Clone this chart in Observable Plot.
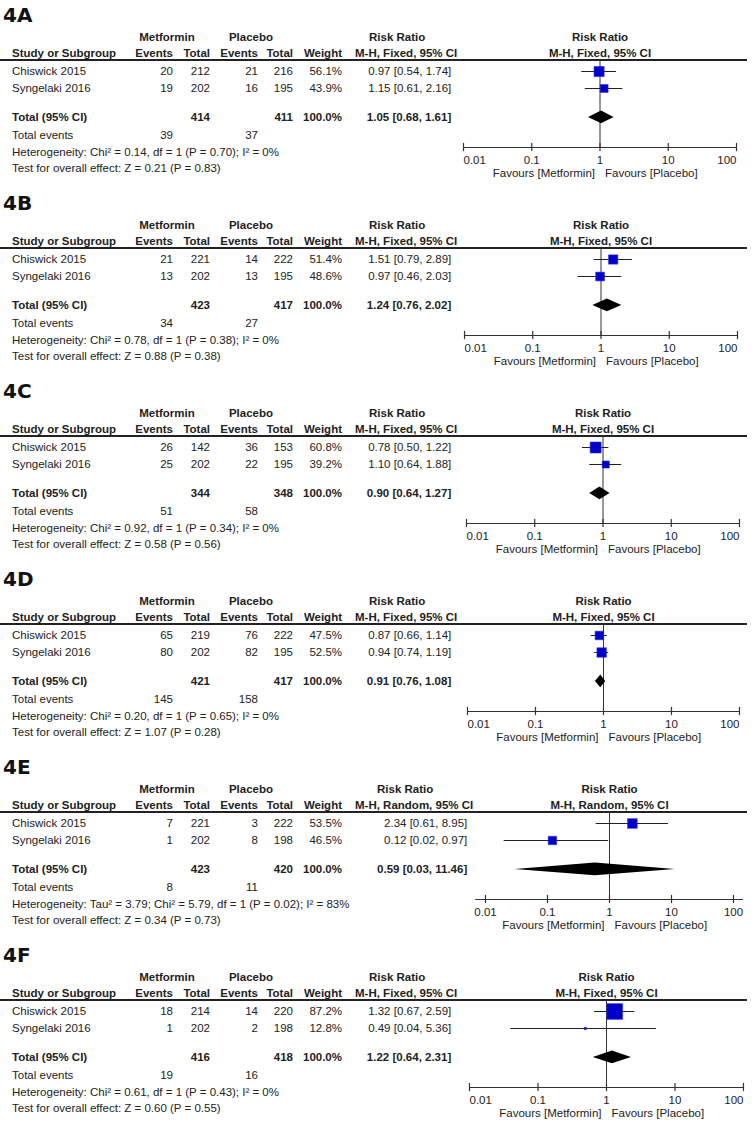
<!DOCTYPE html>
<html><head><meta charset="utf-8">
<script src="https://cdn.jsdelivr.net/npm/d3@7"></script>
<script src="https://cdn.jsdelivr.net/npm/@observablehq/plot@0.6"></script>
<style>
body{margin:0;background:#fff;}
#root{width:756px;}
.panel{position:relative;width:756px;height:188px;font-family:"Liberation Sans",Arial,sans-serif;font-size:11.5px;color:#222;}
.t{position:absolute;white-space:nowrap;line-height:14px;height:14px;}
.b{font-weight:bold;}
.lab{position:absolute;left:3px;font-family:"DejaVu Sans",sans-serif;font-weight:bold;font-size:20px;line-height:24px;color:#111;}
.hline{position:absolute;left:0;width:747px;height:1.5px;background:#222;}
.rrbox{position:absolute;white-space:nowrap;line-height:14px;height:14px;font-weight:bold;}
.rrbox .v{position:absolute;right:6px;white-space:nowrap;font-weight:normal;}
.rrbox .v.b{font-weight:bold;}
.rrbox .hd{position:absolute;left:50%;transform:translateX(calc(-50% - 9px));white-space:nowrap;}
.panel svg{position:absolute;left:0;top:0;}
</style>
</head><body><div id="root"></div>
<script>
// ---------- data ----------
const panels = ["4A","4B","4C","4D","4E","4F"];
const studies = ["Chiswick 2015","Syngelaki 2016"];
const methods = ["Fixed","Fixed","Fixed","Fixed","Random","Fixed"];
const metEvents = [[20,19],[21,13],[26,25],[65,80],[7,1],[18,1]];
const metTotal  = [[212,202],[221,202],[142,202],[219,202],[221,202],[214,202]];
const plaEvents = [[21,16],[14,13],[36,22],[76,82],[3,8],[14,2]];
const plaTotal  = [[216,195],[222,195],[153,195],[222,195],[222,198],[220,198]];
const weights   = [[56.1,43.9],[51.4,48.6],[60.8,39.2],[47.5,52.5],[53.5,46.5],[87.2,12.8]];
const rr  = [[0.97,1.15],[1.51,0.97],[0.78,1.10],[0.87,0.94],[2.34,0.12],[1.32,0.49]];
const rrLo = [[0.54,0.61],[0.79,0.46],[0.50,0.64],[0.66,0.74],[0.61,0.02],[0.67,0.04]];
const rrHi = [[1.74,2.16],[2.89,2.03],[1.22,1.88],[1.14,1.19],[8.95,0.97],[2.59,5.36]];
const totMet = [414,423,344,421,423,416];
const totPla = [411,417,348,417,420,418];
const totRR  = [1.05,1.24,0.90,0.91,0.59,1.22];
const totLo  = [0.68,0.76,0.64,0.76,0.03,0.64];
const totHi  = [1.61,2.02,1.27,1.08,11.46,2.31];
const evMet = [39,34,51,145,8,19];
const evPla = [37,27,58,158,11,16];
const heterogeneity = [
  "Heterogeneity: Chi² = 0.14, df = 1 (P = 0.70); I² = 0%",
  "Heterogeneity: Chi² = 0.78, df = 1 (P = 0.38); I² = 0%",
  "Heterogeneity: Chi² = 0.92, df = 1 (P = 0.34); I² = 0%",
  "Heterogeneity: Chi² = 0.20, df = 1 (P = 0.65); I² = 0%",
  "Heterogeneity: Tau² = 3.79; Chi² = 5.79, df = 1 (P = 0.02); I² = 83%",
  "Heterogeneity: Chi² = 0.61, df = 1 (P = 0.43); I² = 0%"
];
const overall = [
  "Test for overall effect: Z = 0.21 (P = 0.83)",
  "Test for overall effect: Z = 0.88 (P = 0.38)",
  "Test for overall effect: Z = 0.58 (P = 0.56)",
  "Test for overall effect: Z = 1.07 (P = 0.28)",
  "Test for overall effect: Z = 0.34 (P = 0.73)",
  "Test for overall effect: Z = 0.60 (P = 0.55)"
];
const tickValues = [0.01,0.1,1,10,100];
const tickLabels = ["0.01","0.1","1","10","100"];
const favours = ["Favours [Metformin]","Favours [Placebo]"];

// ---------- layout ----------
const W=756, H=188, ROW=17, ORIGIN=71;
const R = {lab:-3.3, h1:-2.0, h2:-1.06, line:-0.65, s:[0,1], tot:2.7, ev:3.75, het:4.75, test:5.7, axis:4.47, tick:5.24, fav:6.0};
const COL = {study:12, ev1:173, tot1:210, ev2:258, tot2:293, weight:342, rr:355, met:167, pla:251};
const xRanges = [[463,736],[464,737],[466,739],[467,739],[485,733],[469,743]];
const axisPad = [0,0,0,0,0.16,0];
const yPx = r => ORIGIN + r*ROW;
const f2 = v => v.toFixed(2);
const ci = (e,l,h) => `${f2(e)} [${f2(l)}, ${f2(h)}]`;

function put(panel, text, row, o) {
  const el = document.createElement("div");
  el.className = "t" + (o.bold ? " b" : "");
  el.textContent = text;
  el.style.top = (yPx(row) - 7) + "px";
  if (o.left != null) el.style.left = o.left + "px";
  if (o.right != null) el.style.right = (W - o.right) + "px";
  if (o.center != null) { el.style.left = o.center + "px"; el.style.transform = "translateX(-50%)"; }
  panel.appendChild(el);
}

const root = document.getElementById("root");
panels.forEach((name, i) => {
  const p = document.createElement("div");
  p.className = "panel";
  root.appendChild(p);

  const lab = document.createElement("div");
  lab.className = "lab"; lab.textContent = name;
  lab.style.top = (yPx(R.lab) - 12) + "px";
  p.appendChild(lab);

  put(p, "Metformin", R.h1, {center: COL.met, bold: true});
  put(p, "Placebo", R.h1, {center: COL.pla, bold: true});
  put(p, "Study or Subgroup", R.h2, {left: COL.study, bold: true});
  put(p, "Events", R.h2, {right: COL.ev1, bold: true});
  put(p, "Total", R.h2, {right: COL.tot1, bold: true});
  put(p, "Events", R.h2, {right: COL.ev2, bold: true});
  put(p, "Total", R.h2, {right: COL.tot2, bold: true});
  put(p, "Weight", R.h2, {right: COL.weight, bold: true});

  const hl = document.createElement("div");
  hl.className = "hline"; hl.style.top = (yPx(R.line) - 0.75) + "px";
  p.appendChild(hl);

  // risk ratio text column
  const box = document.createElement("div");
  box.className = "rrbox";
  box.style.left = COL.rr + "px";
  box.style.top = (yPx(R.h2) - 7) + "px";
  box.appendChild(document.createTextNode(`M-H, ${methods[i]}, 95% CI`));
  const hd = document.createElement("div");
  hd.className = "hd"; hd.textContent = "Risk Ratio";
  hd.style.top = (yPx(R.h1) - yPx(R.h2)) + "px";
  box.appendChild(hd);
  const addV = (txt, row, bold) => {
    const v = document.createElement("div");
    v.className = "v" + (bold ? " b" : "");
    v.textContent = txt;
    v.style.top = (yPx(row) - yPx(R.h2)) + "px";
    box.appendChild(v);
  };
  studies.forEach((s, j) => {
    const row = R.s[j];
    put(p, s, row, {left: COL.study});
    put(p, String(metEvents[i][j]), row, {right: COL.ev1});
    put(p, String(metTotal[i][j]), row, {right: COL.tot1});
    put(p, String(plaEvents[i][j]), row, {right: COL.ev2});
    put(p, String(plaTotal[i][j]), row, {right: COL.tot2});
    put(p, weights[i][j].toFixed(1) + "%", row, {right: COL.weight});
    addV(ci(rr[i][j], rrLo[i][j], rrHi[i][j]), row, false);
  });
  put(p, "Total (95% CI)", R.tot, {left: COL.study, bold: true});
  put(p, String(totMet[i]), R.tot, {right: COL.tot1, bold: true});
  put(p, String(totPla[i]), R.tot, {right: COL.tot2, bold: true});
  put(p, (weights[i][0] + weights[i][1]).toFixed(1) + "%", R.tot, {right: COL.weight, bold: true});
  addV(ci(totRR[i], totLo[i], totHi[i]), R.tot, true);
  p.appendChild(box);

  put(p, "Total events", R.ev, {left: COL.study});
  put(p, String(evMet[i]), R.ev, {right: COL.ev1});
  put(p, String(evPla[i]), R.ev, {right: COL.ev2});
  put(p, heterogeneity[i], R.het, {left: COL.study});
  put(p, overall[i], R.test, {left: COL.study});

  // forest plot
  const studyData = studies.map((s, j) => ({row: R.s[j], est: rr[i][j], lo: rrLo[i][j], hi: rrHi[i][j], w: weights[i][j]}));
  const diamond = [
    {x: totLo[i], y1: R.tot, y2: R.tot},
    {x: totRR[i], y1: R.tot - 0.38, y2: R.tot + 0.38},
    {x: totHi[i], y1: R.tot, y2: R.tot}
  ];
  const pad = axisPad[i];
  const ticks = tickValues.map((v, k) => ({v, label: tickLabels[k]}));
  const edgeMarks = pad > 0
    ? [Plot.text(ticks, {x: "v", y: () => R.tick, text: "label"})]
    : [Plot.text(ticks.slice(1, -1), {x: "v", y: () => R.tick, text: "label"}),
       Plot.text(ticks.slice(0, 1), {x: "v", y: () => R.tick, text: "label", textAnchor: "start"}),
       Plot.text(ticks.slice(-1), {x: "v", y: () => R.tick, text: "label", textAnchor: "end"})];
  const [x0, x1] = xRanges[i];
  const svg = Plot.plot({
    width: W, height: H,
    marginTop: 0, marginBottom: 0, marginLeft: x0, marginRight: W - x1,
    style: {background: "transparent", fontFamily: '"Liberation Sans", Arial, sans-serif', fontSize: "11.5px", color: "#222", overflow: "visible"},
    x: {type: "log", domain: [tickValues[0], tickValues[tickValues.length - 1]], axis: null},
    y: {domain: [-ORIGIN / ROW, (H - ORIGIN) / ROW], reverse: true, axis: null},
    r: {type: "linear", domain: [0, 100], range: [0, 10.16]},
    marks: [
      Plot.ruleX([1], {x: d => d, y1: () => R.line, y2: () => R.axis, stroke: "#333", strokeWidth: 1}),
      Plot.ruleY([R.axis], {y: d => d, x1: () => tickValues[0] / 10 ** pad, x2: () => tickValues[4] * 10 ** pad, stroke: "#333", strokeWidth: 1.2}),
      Plot.ruleX(tickValues, {x: d => d, y1: () => R.axis - 0.24, y2: () => R.axis + 0.24, stroke: "#333", strokeWidth: 1.2}),
      ...edgeMarks,
      Plot.text([1], {x: d => d, y: () => R.fav, text: () => favours[0], textAnchor: "end", dx: -5}),
      Plot.text([1], {x: d => d, y: () => R.fav, text: () => favours[1], textAnchor: "start", dx: 5}),
      Plot.text([1], {x: d => d, y: () => R.h1, text: () => "Risk Ratio", fontWeight: "bold"}),
      Plot.text([1], {x: d => d, y: () => R.h2, text: () => `M-H, ${methods[i]}, 95% CI`, fontWeight: "bold"}),
      Plot.ruleY(studyData, {y: "row", x1: "lo", x2: "hi", stroke: "#222", strokeWidth: 1}),
      Plot.dot(studyData, {x: "est", y: "row", r: "w", symbol: "square", fill: "#0000c8", stroke: "#2b2bdd", strokeWidth: 0.6}),
      Plot.areaY(diamond, {x: "x", y1: "y1", y2: "y2", fill: "#000"})
    ]
  });
  p.appendChild(svg);
});
</script></body></html>
